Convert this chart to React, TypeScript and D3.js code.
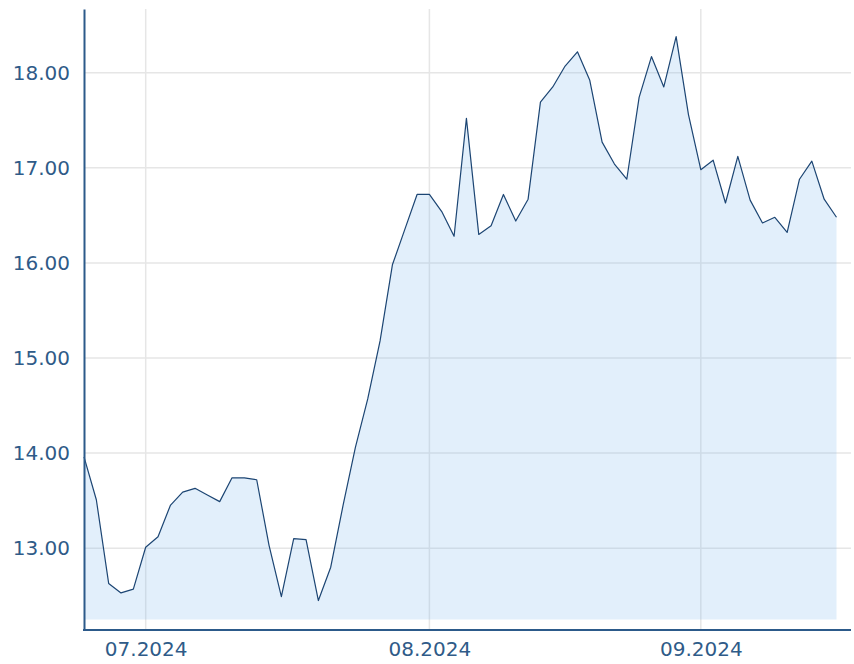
import React, { useRef, useEffect } from "react";
import * as d3 from "d3";

// daily closing prices, trading days from late June to mid September 2024
const prices = [
  13.96, 13.51, 12.63, 12.53, 12.57, 13.01, 13.12, 13.45, 13.59, 13.63,
  13.56, 13.49, 13.74, 13.74, 13.72, 13.03, 12.49, 13.1, 13.09, 12.45,
  12.8, 13.45, 14.06, 14.57, 15.18, 15.98, 16.35, 16.72, 16.72, 16.54,
  16.28, 17.52, 16.3, 16.39, 16.72, 16.44, 16.67, 17.69, 17.85, 18.07,
  18.22, 17.92, 17.27, 17.04, 16.88, 17.74, 18.17, 17.85, 18.38, 17.56,
  16.98, 17.08, 16.63, 17.12, 16.66, 16.42, 16.48, 16.32, 16.88, 17.07,
  16.67, 16.48,
];

// month ticks (index of first trading day of the month)
const monthTickIndex = [5, 28, 50];
const monthTickLabels = ["07.2024", "08.2024", "09.2024"];

const yTicks = [13, 14, 15, 16, 17, 18];
const yDomain = [12.14, 18.67];
const areaBase = 12.25;

const width = 854;
const height = 664;
const margin = { top: 9, right: 3, bottom: 34, left: 84 };
const plotRight = 836.5;

const fontFamily = "'DejaVu Sans', Verdana, sans-serif";
const textColor = "#2f5b88";
const axisColor = "#2c5a8a";

const App = () => {
  const xAxisRef = useRef<SVGGElement>(null);
  const yAxisRef = useRef<SVGGElement>(null);

  const x = d3
    .scaleLinear()
    .domain([0, prices.length - 1])
    .range([margin.left, plotRight]);

  const y = d3
    .scaleLinear()
    .domain(yDomain)
    .range([height - margin.bottom, margin.top]);

  const area = d3
    .area<number>()
    .x((d, i) => x(i))
    .y0(y(areaBase))
    .y1((d) => y(d));

  const line = d3
    .line<number>()
    .x((d, i) => x(i))
    .y((d) => y(d));

  useEffect(() => {
    const yAxis = d3
      .axisLeft(y)
      .tickValues(yTicks)
      .tickFormat(d3.format(".2f"))
      .tickSize(0)
      .tickPadding(14);
    const gy = d3.select(yAxisRef.current).call(yAxis as any);
    gy.select(".domain").attr("stroke", axisColor).attr("stroke-width", 2);
    gy.selectAll("text")
      .attr("fill", textColor)
      .style("font-family", fontFamily)
      .style("font-size", "20px");

    const xAxis = d3
      .axisBottom(x)
      .tickValues(monthTickIndex)
      .tickFormat((d, i) => monthTickLabels[i])
      .tickSize(0)
      .tickPadding(12);
    const gx = d3.select(xAxisRef.current).call(xAxis as any);
    gx.select(".domain").remove();
    gx.selectAll("text")
      .attr("fill", textColor)
      .style("font-family", fontFamily)
      .style("font-size", "20px");
  }, []);

  const bottom = height - margin.bottom;
  const right = width - margin.right;

  return (
    <div style={{ position: "absolute", left: 0, top: 0 }}>
      <svg width={width} height={height} style={{ display: "block", background: "#fff" }}>
        {/* grid */}
        <g className="grid">
          {yTicks.map((t) => (
            <line
              key={"h" + t}
              x1={margin.left}
              x2={right}
              y1={y(t)}
              y2={y(t)}
              stroke="#e6e6e6"
              strokeWidth={1.5}
            />
          ))}
          {monthTickIndex.map((t) => (
            <line
              key={"v" + t}
              x1={x(t)}
              x2={x(t)}
              y1={margin.top}
              y2={bottom}
              stroke="#e6e6e6"
              strokeWidth={1.5}
            />
          ))}
        </g>
        <path d={area(prices) || ""} fill="rgba(124,181,236,0.22)" />
        <path
          d={line(prices) || ""}
          fill="none"
          stroke="#1c4573"
          strokeWidth={1.2}
          strokeLinejoin="round"
        />
        <line
          x1={margin.left - 1}
          x2={right}
          y1={bottom}
          y2={bottom}
          stroke={axisColor}
          strokeWidth={2}
        />
        <g ref={yAxisRef} transform={`translate(${margin.left}, 0)`} />
        <g ref={xAxisRef} transform={`translate(0, ${bottom})`} />
      </svg>
    </div>
  );
};

export default App;
